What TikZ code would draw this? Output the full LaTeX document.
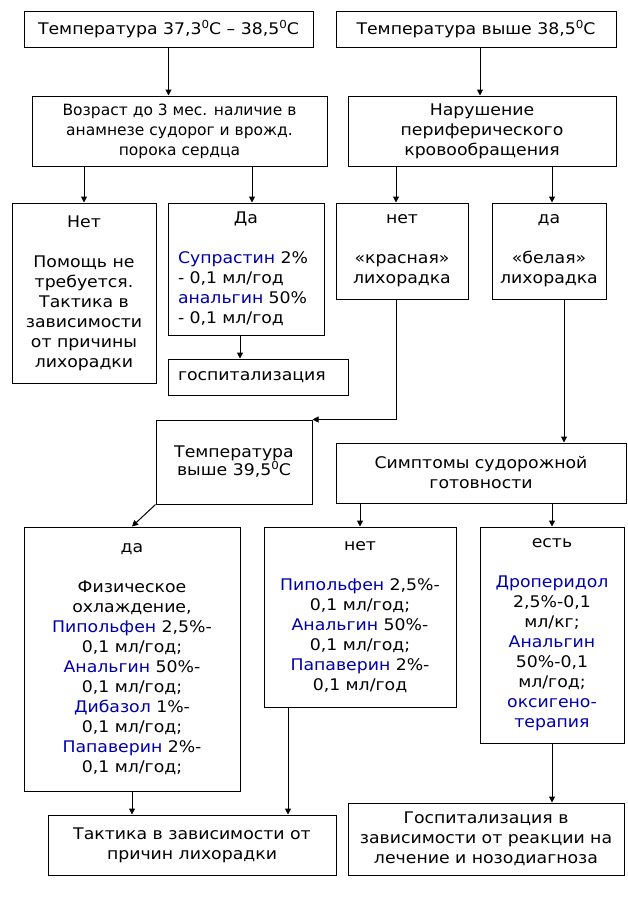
\documentclass[tikz,border=0pt]{standalone}
\usepackage{fontspec}
\setmainfont{DejaVu Sans}[FakeStretch=1.08]
\newfontfamily\plainfont{DejaVu Sans}
\usetikzlibrary{arrows.meta}
\definecolor{drugblue}{RGB}{0,0,170}
\newcommand{\drug}[1]{\textcolor{drugblue}{#1}}
\newcommand{\degsup}{\raisebox{0.38em}{\fontsize{11}{11}\selectfont 0}}
\begin{document}
\begin{tikzpicture}[
    x=1pt,y=-1pt,
    feverBox/.style={rectangle,draw=black,line width=1pt,inner sep=2pt,align=center,font=\fontsize{16}{20}\selectfont},
    feverArr/.style={-{Triangle[length=6pt,width=6pt]},line width=1pt},
]
\useasboundingbox (0,0) rectangle (628,900);
\node[feverBox,minimum width=289pt,minimum height=36pt] (tempLow) at (168.5,29) {Температура 37,3\degsup C – 38,5\degsup C};
\node[feverBox,minimum width=280pt,minimum height=36pt] (tempHigh) at (476,29) {Температура выше 38,5\degsup C};
\node[feverBox,minimum width=295pt,minimum height=70pt,font=\plainfont\fontsize{15.5}{20}\selectfont] (ageRisk) at (179.5,131) {Возраст до 3 мес. наличие в\\анамнезе судорог и врожд.\\порока сердца};
\node[feverBox,minimum width=268pt,minimum height=70pt] (periph) at (482,131) {Нарушение\\периферического\\кровообращения};
\node[feverBox,minimum width=144pt,minimum height=180pt] (noneA) at (84,293) {Нет\\[20pt]Помощь не\\требуется.\\Тактика в\\зависимости\\от причины\\лихорадки};
\node[feverBox,minimum width=156pt,minimum height=132pt,align=left,text width=136pt] (yesA) at (246,269) {\makebox[136pt]{Да}\\[20pt]\drug{Супрастин} 2\%\\- 0,1 мл/год\\\drug{анальгин} 50\%\\- 0,1 мл/год};
\node[feverBox,minimum width=180pt,minimum height=36pt,align=left,text width=160pt] (hospA) at (258,377) {госпитализация};
\node[feverBox,minimum width=132pt,minimum height=96pt] (redF) at (402,251) {нет\\[20pt]«красная»\\лихорадка};
\node[feverBox,minimum width=114pt,minimum height=96pt] (whiteF) at (549,251) {да\\[20pt]«белая»\\лихорадка};
\node[feverBox,minimum width=156pt,minimum height=84pt] (temp39) at (234,462) {Температура\\[-2pt]выше 39,5\degsup C};
\node[feverBox,minimum width=290pt,minimum height=60pt] (seizure) at (481,473) {Симптомы судорожной\\готовности};
\node[feverBox,minimum width=216pt,minimum height=264pt] (yesB) at (132,659) {да\\[20pt]Физическое\\охлаждение,\\\drug{Пипольфен} 2,5\%-\\0,1 мл/год;\\\drug{Анальгин} 50\%-\\0,1 мл/год;\\\drug{Дибазол} 1\%-\\0,1 мл/год;\\\drug{Папаверин} 2\%-\\0,1 мл/год;};
\node[feverBox,minimum width=192pt,minimum height=180pt] (noB) at (360,617) {нет\\[20pt]\drug{Пипольфен} 2,5\%-\\0,1 мл/год;\\\drug{Анальгин} 50\%-\\0,1 мл/год;\\\drug{Папаверин} 2\%-\\0,1 мл/год};
\node[feverBox,minimum width=144pt,minimum height=216pt] (seizYes) at (552,635) {есть\\[20pt]\drug{Дроперидол}\\2,5\%-0,1\\мл/кг;\\\drug{Анальгин}\\50\%-0,1\\мл/год;\\\drug{оксигено-}\\\drug{терапия}};
\node[feverBox,minimum width=288pt,minimum height=60pt] (tactic) at (192,845) {Тактика в зависимости от\\причин лихорадки};
\node[feverBox,minimum width=276pt,minimum height=72pt] (hospB) at (486,839) {Госпитализация в\\зависимости от реакции на\\лечение и нозодиагноза};
\draw[feverArr] (tempLow.south) -- (tempLow.south |- ageRisk.north);
\draw[feverArr] ([xshift=4pt]tempHigh.south) -- ([xshift=4pt]tempHigh.south |- periph.north);
\draw[feverArr] (ageRisk.south -| noneA.north) -- (noneA.north);
\draw[feverArr] ([xshift=6pt]yesA.north |- ageRisk.south) -- ([xshift=6pt]yesA.north);
\draw[feverArr] ([xshift=-6pt]redF.north |- periph.south) -- ([xshift=-6pt]redF.north);
\draw[feverArr] ([xshift=3pt]whiteF.north |- periph.south) -- ([xshift=3pt]whiteF.north);
\draw[feverArr] ([xshift=-6pt]yesA.south) -- ([xshift=-6pt]yesA.south |- hospA.north);
\draw[feverArr] ([xshift=-6pt]redF.south) |- (temp39.north east);
\draw[feverArr] ([xshift=15pt]whiteF.south) -- ([xshift=83pt]seizure.north);
\draw[feverArr] (temp39.south west) -- (yesB.north);
\draw[feverArr] (seizure.south -| noB.north) -- (noB.north);
\draw[feverArr] (seizure.south -| seizYes.north) -- (seizYes.north);
\draw[feverArr] (yesB.south) -- (yesB.south |- tactic.north);
\draw[feverArr] ([xshift=-72pt]noB.south) -- ([xshift=-72pt]noB.south |- tactic.north);
\draw[feverArr] (seizYes.south) -- (seizYes.south |- hospB.north);
\end{tikzpicture}
\end{document}
